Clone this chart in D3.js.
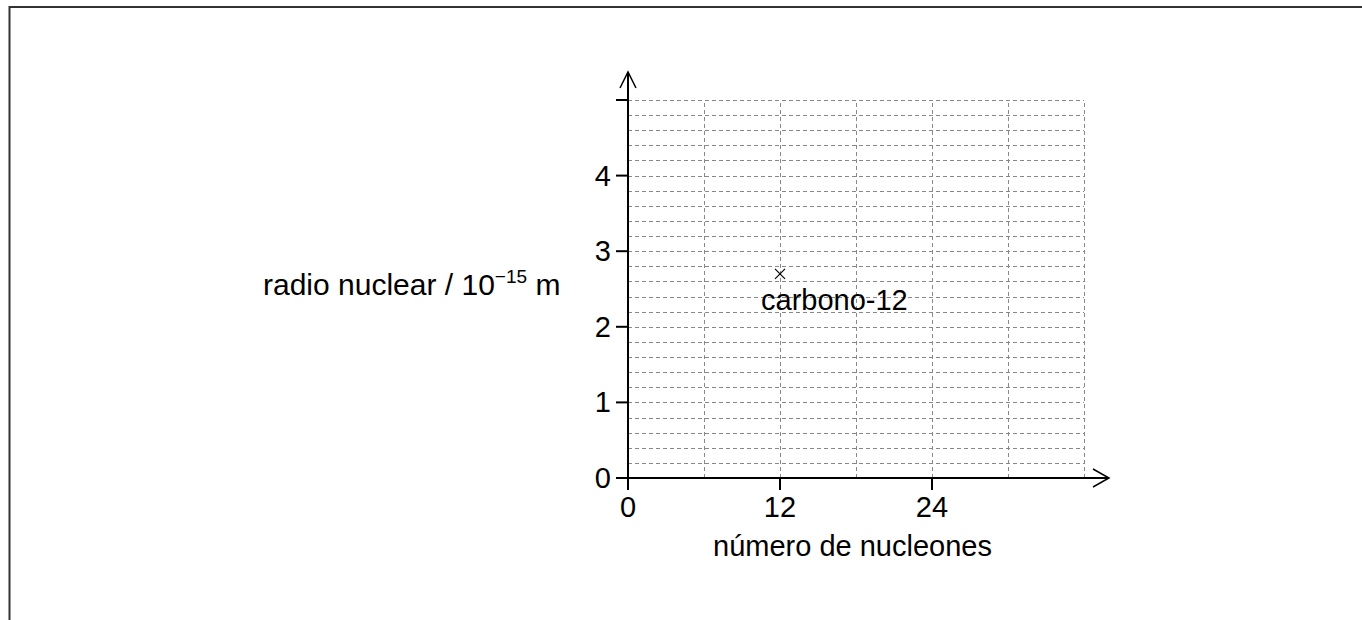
<!DOCTYPE html>
<html>
<head>
<meta charset="utf-8">
<script src="https://cdn.jsdelivr.net/npm/d3@7"></script>
<style>
  body { margin: 0; background: #fff; }
  svg { display: block; font-family: "Liberation Sans", Arial, sans-serif; }
</style>
</head>
<body>
<div id="chart"></div>
<script>
const width = 1362;
const height = 620;

// axis ranges and labels
const xDomain = [0, 36];
const yDomain = [0, 5];
const xTickValues = [0, 12, 24];
const yTickValues = [0, 1, 2, 3, 4];
const xGridValues = [6, 12, 18, 24, 30, 36];
const yGridValues = d3.range(1, 26).map((i) => i / 5);

// the one marked point
const points = [{ name: "carbono-12", nucleons: 12, radius: 2.7 }];

const svg = d3
  .select("#chart")
  .append("svg")
  .attr("width", width)
  .attr("height", height);

// frame line, top and left only
svg
  .append("path")
  .attr("d", `M9.5,${height} V7 H${width}`)
  .attr("fill", "none")
  .attr("stroke", "#333")
  .attr("stroke-width", 2);

const x = d3.scaleLinear().domain(xDomain).range([628, 1084]);
const y = d3.scaleLinear().domain(yDomain).range([478, 100]);

// grid
const grid = svg.append("g").attr("stroke", "#888").attr("stroke-width", 1).attr("stroke-dasharray", "4,3");

grid
  .selectAll("line.h")
  .data(yGridValues)
  .enter()
  .append("line")
  .attr("class", "h")
  .attr("x1", x(0))
  .attr("x2", x(36))
  .attr("y1", (d) => Math.round(y(d)) + 0.5)
  .attr("y2", (d) => Math.round(y(d)) + 0.5);

grid
  .selectAll("line.v")
  .data(xGridValues)
  .enter()
  .append("line")
  .attr("class", "v")
  .attr("x1", (d) => Math.round(x(d)) + 0.5)
  .attr("x2", (d) => Math.round(x(d)) + 0.5)
  .attr("y1", y(0))
  .attr("y2", y(5));

// axes with arrow heads
const axes = svg.append("g").attr("stroke", "#000").attr("stroke-width", 2).attr("fill", "none");

axes.append("line").attr("x1", x(0)).attr("x2", 1109).attr("y1", y(0)).attr("y2", y(0));
axes.append("line").attr("x1", x(0)).attr("x2", x(0)).attr("y1", y(0)).attr("y2", 72);
axes.append("path").attr("stroke-width", 1.5).attr("d", `M1093,${y(0) - 9} L1109,${y(0)} L1093,${y(0) + 9}`);
axes.append("path").attr("stroke-width", 1.5).attr("d", `M${x(0) - 8},88 L${x(0)},72 L${x(0) + 8},88`);

// ticks
axes
  .selectAll("line.xt")
  .data(xTickValues)
  .enter()
  .append("line")
  .attr("x1", (d) => x(d))
  .attr("x2", (d) => x(d))
  .attr("y1", y(0))
  .attr("y2", y(0) + 12);

axes
  .selectAll("line.yt")
  .data(yTickValues.concat([5]))
  .enter()
  .append("line")
  .attr("x1", x(0) - 12)
  .attr("x2", x(0))
  .attr("y1", (d) => y(d))
  .attr("y2", (d) => y(d));

const fs = 29;

svg
  .selectAll("text.xl")
  .data(xTickValues)
  .enter()
  .append("text")
  .attr("x", (d) => x(d))
  .attr("y", 517)
  .attr("text-anchor", "middle")
  .attr("font-size", fs)
  .text((d) => d);

svg
  .selectAll("text.yl")
  .data(yTickValues)
  .enter()
  .append("text")
  .attr("x", 611)
  .attr("y", (d) => y(d) + 10)
  .attr("text-anchor", "end")
  .attr("font-size", fs)
  .text((d) => d);

// axis titles
svg
  .append("text")
  .attr("x", 713)
  .attr("y", 556)
  .attr("font-size", fs)
  .text("número de nucleones");

const yTitle = svg.append("text").attr("x", 263).attr("y", 295).attr("font-size", 30);
yTitle.append("tspan").text("radio nuclear / 10");
yTitle.append("tspan").attr("font-size", 19).attr("dy", -12).text("−15");
yTitle.append("tspan").attr("dy", 12).text(" m");

// marked point
const pt = svg.append("g").selectAll("g").data(points).enter().append("g");
pt.append("path")
  .attr("d", (d) => {
    const cx = x(d.nucleons), cy = y(d.radius);
    return `M${cx - 5},${cy - 5}L${cx + 5},${cy + 5}M${cx - 5},${cy + 5}L${cx + 5},${cy - 5}`;
  })
  .attr("stroke", "#000")
  .attr("stroke-width", 1.2);
pt.append("text")
  .attr("x", (d) => x(d.nucleons) - 19)
  .attr("y", (d) => y(d.radius) + 36)
  .attr("font-size", fs)
  .text((d) => d.name);
</script>
</body>
</html>
